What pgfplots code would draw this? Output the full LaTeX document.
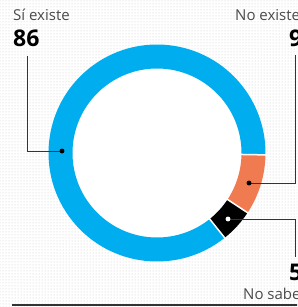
\documentclass[border=0pt]{standalone}
\usepackage{pgfplots}
\pgfplotsset{compat=1.18}
\usepackage{fontspec}
\setmainfont{Open Sans}
\usetikzlibrary{patterns}
\definecolor{cblue}{HTML}{00AEEF}
\definecolor{corange}{HTML}{F07B50}
\definecolor{cline}{HTML}{333333}
\definecolor{ctext}{HTML}{4A4A4A}
% values: No existe, No sabe, Si existe
\def\vA{9}\def\vB{5}\def\vC{86}
\pgfmathsetmacro\sA{-1}
\pgfmathsetmacro\eA{\sA-3.6*\vA}
\pgfmathsetmacro\eB{\eA-3.6*\vB}
\pgfmathsetmacro\eC{\eB-3.6*\vC}
\def\Ro{108.5}\def\Ri{84.5}
\begin{document}
\begin{tikzpicture}
\useasboundingbox (0,0) rectangle (297pt,307pt);
\clip (0,0) rectangle (297pt,307pt);
\begin{axis}[x=1pt,y=1pt,xmin=0,xmax=297,ymin=0,ymax=307,hide axis,clip=false]
\fill[pattern=dots, pattern color=gray!45] (axis cs:0,0) rectangle (axis cs:297,307);
\begin{scope}[shift={(axis cs:157,154)}]
\fill[white] (0,0) circle[radius=\Ri pt];
\fill[corange] (\sA:\Ro pt) arc[start angle=\sA,end angle=\eA,radius=\Ro pt] -- (\eA:\Ri pt) arc[start angle=\eA,end angle=\sA,radius=\Ri pt] -- cycle;
\fill[black] (\eA:\Ro pt) arc[start angle=\eA,end angle=\eB,radius=\Ro pt] -- (\eB:\Ri pt) arc[start angle=\eB,end angle=\eA,radius=\Ri pt] -- cycle;
\fill[cblue] (\eB:\Ro pt) arc[start angle=\eB,end angle=\eC,radius=\Ro pt] -- (\eC:\Ri pt) arc[start angle=\eC,end angle=\eB,radius=\Ri pt] -- cycle;
\draw[white, line width=1.5pt] (\sA:83pt) -- (\sA:110pt);
\draw[white, line width=1.5pt] (\eA:83pt) -- (\eA:110pt);
\draw[white, line width=1.5pt] (\eB:83pt) -- (\eB:110pt);
\end{scope}
% leaders
\addplot[cline, line width=0.9pt] coordinates {(27,251) (27,156) (62,156)};
\addplot[only marks, mark=*, mark size=2.2pt, black] coordinates {(62,156)};
\addplot[cline, line width=0.9pt] coordinates {(295,252) (295,124) (249,124)};
\addplot[only marks, mark=*, mark size=2.2pt, black] coordinates {(249,124)};
\addplot[cline, line width=0.9pt] coordinates {(228,88) (295,88) (295,50)};
\addplot[only marks, mark=*, mark size=2.2pt, white] coordinates {(228,88)};
\addplot[cline, line width=2pt] coordinates {(12,1.5) (300,1.5)};
% labels
\node[anchor=base west, inner sep=0, text=ctext, font=\fontsize{15}{18}\selectfont] at (axis cs:13,286) {Sí existe};
\node[anchor=base west, inner sep=0, font=\bfseries\fontsize{23}{26}\selectfont] at (axis cs:13,260) {86};
\node[anchor=base west, inner sep=0, text=ctext, font=\fontsize{15}{18}\selectfont] at (axis cs:235,286) {No existe};
\node[anchor=base west, inner sep=0, font=\bfseries\fontsize{23}{26}\selectfont] at (axis cs:289,260) {9};
\node[anchor=base west, inner sep=0, font=\bfseries\fontsize{23}{26}\selectfont] at (axis cs:289,26) {5};
\node[anchor=base west, inner sep=0, text=ctext, font=\fontsize{15}{18}\selectfont] at (axis cs:243,7) {No sabe};
\end{axis}
\end{tikzpicture}
\end{document}
